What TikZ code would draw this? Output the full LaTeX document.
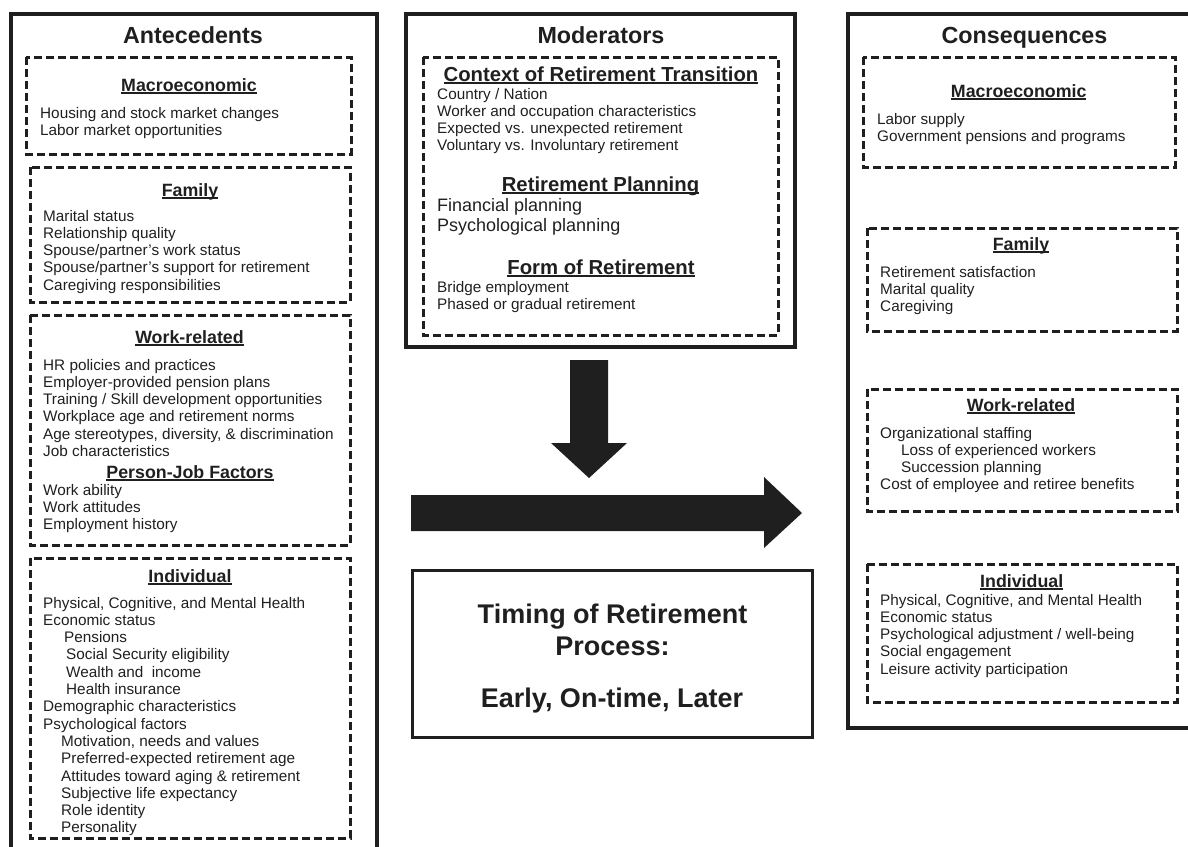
\documentclass[tikz,border=0pt]{standalone}
\usepackage{fontspec}
\setmainfont{Liberation Sans}
\definecolor{ink}{gray}{0.12}
\newsavebox\ulbox
\newcommand\ulhead[1]{\sbox\ulbox{#1}\rlap{\rule[-2.6pt]{\wd\ulbox}{1.4pt}}\usebox\ulbox}
\newcommand\itemlines[5]{%
  \foreach \t [count=\i] in {#5} {%
    \node[itemtext, anchor=base west] (#1-\i) at (#2, {#3+(\i-1)*#4}) {\t};}}
\begin{document}
\begin{tikzpicture}[x=1pt,y=-1pt,
  outerbox/.style={draw=ink, line width=3.4pt},
  dashbox/.style={draw=ink, line width=3pt, dash pattern=on 8pt off 4pt},
  itemtext/.style={font=\fontsize{15.3}{17.3}\selectfont, text=ink, inner sep=0pt},
  bigitem/.style={font=\fontsize{18}{20}\selectfont, text=ink, inner sep=0pt},
  headtext/.style={font=\bfseries\fontsize{17.8}{20}\selectfont, text=ink, inner sep=0pt},
  subhead/.style={font=\bfseries\fontsize{20.3}{23}\selectfont, text=ink, inner sep=0pt},
  titletext/.style={font=\bfseries\fontsize{23.3}{26}\selectfont, text=ink, inner sep=0pt},
  timingtext/.style={font=\bfseries\fontsize{27}{30}\selectfont, text=ink, inner sep=0pt},
  bigarrow/.style={fill=ink, draw=none}]
\useasboundingbox (0,0) rectangle (1188,846);
\clip (0,0) rectangle (1188,846);

% ---------------- Antecedents ----------------
\draw[outerbox] (11,14) rectangle (377,900);
\node[titletext, anchor=base] (antetitle) at (193,43) {Antecedents};

\draw[dashbox] (26,57) rectangle (351,154);
\node[headtext, anchor=base] (amacro) at (189,91) {\ulhead{Macroeconomic}};
\itemlines{am}{40}{118}{17.3}{Housing and stock market changes, Labor market opportunities}

\draw[dashbox] (30,167) rectangle (350,302);
\node[headtext, anchor=base] (afam) at (190,196) {\ulhead{Family}};
\itemlines{af}{43}{221}{17.3}{Marital status, Relationship quality, Spouse/partner’s work status, Spouse/partner’s support for retirement, Caregiving responsibilities}

\draw[dashbox] (30,315) rectangle (350,545);
\node[headtext, anchor=base] (awork) at (189.5,343) {\ulhead{Work-related}};
\itemlines{aw}{43}{370}{17.3}{HR policies and practices, Employer-provided pension plans, Training / Skill development opportunities, Workplace age and retirement norms, {Age stereotypes, diversity, \& discrimination}, Job characteristics}
\node[headtext, anchor=base] (apj) at (190,478) {\ulhead{Person-Job Factors}};
\itemlines{ap}{43}{495}{17.3}{Work ability, Work attitudes, Employment history}

\draw[dashbox] (30,558) rectangle (350,838);
\node[headtext, anchor=base] (aind) at (190,582) {\ulhead{Individual}};
\itemlines{ai}{43}{608}{17.3}{{Physical, Cognitive, and Mental Health}, Economic status, \hspace*{21pt}Pensions, \hspace*{23pt}Social Security eligibility, \hspace*{23pt}Wealth and\ \ income, \hspace*{23pt}Health insurance, Demographic characteristics, Psychological factors, {\hspace*{18pt}Motivation, needs and values}, \hspace*{18pt}Preferred-expected retirement age, \hspace*{18pt}Attitudes toward aging \& retirement, \hspace*{18pt}Subjective life expectancy, \hspace*{18pt}Role identity, \hspace*{18pt}Personality}

% ---------------- Moderators ----------------
\draw[outerbox] (406,14) rectangle (795,347);
\node[titletext, anchor=base] (modtitle) at (601,43) {Moderators};
\draw[dashbox] (423,57) rectangle (778,335);
\node[subhead, anchor=base] (mctx) at (601,81) {\ulhead{Context of Retirement Transition}};
\itemlines{mc}{437}{99}{17.3}{Country / Nation, Worker and occupation characteristics, Expected vs. unexpected retirement, Voluntary vs. Involuntary retirement}
\node[subhead, anchor=base] (mplan) at (600.5,191) {\ulhead{Retirement Planning}};
\node[bigitem, anchor=base west] (mp-1) at (437,211) {Financial planning};
\node[bigitem, anchor=base west] (mp-2) at (437,231) {Psychological planning};
\node[subhead, anchor=base] (mform) at (601,274) {\ulhead{Form of Retirement}};
\itemlines{mf}{437}{292}{17.3}{Bridge employment, Phased or gradual retirement}

% ---------------- Arrows ----------------
\fill[bigarrow] (570,360) -- (608,360) -- (608,443) -- (627,443) -- (589,478) -- (551,443) -- (570,443) -- cycle;
\fill[bigarrow] (411,495) -- (764,495) -- (764,477) -- (802,513) -- (764,548) -- (764,531) -- (411,531) -- cycle;

% ---------------- Timing ----------------
\draw[ink, line width=3pt] (412,570) rectangle (812,737);
\node[timingtext, anchor=base] (tim1) at (612.5,623) {Timing of Retirement};
\node[timingtext, anchor=base] (tim2) at (612.5,655) {Process:};
\node[timingtext, anchor=base] (tim3) at (612,707) {Early, On-time, Later};

% ---------------- Consequences ----------------
\draw[outerbox] (848,14) rectangle (1250,728);
\node[titletext, anchor=base] (contitle) at (1024.5,43) {Consequences};

\draw[dashbox] (863,57) rectangle (1175,167);
\node[headtext, anchor=base] (cmacro) at (1018.7,97) {\ulhead{Macroeconomic}};
\itemlines{cm}{877}{124}{17.3}{Labor supply, Government pensions and programs}

\draw[dashbox] (867,228) rectangle (1177,331);
\node[headtext, anchor=base] (cfam) at (1021,250) {\ulhead{Family}};
\itemlines{cf}{880}{277}{17.3}{Retirement satisfaction, Marital quality, Caregiving}

\draw[dashbox] (867,389) rectangle (1177,511);
\node[headtext, anchor=base] (cwork) at (1021,411) {\ulhead{Work-related}};
\itemlines{cw}{880}{438}{17.3}{Organizational staffing, \hspace*{21pt}Loss of experienced\ workers, \hspace*{21pt}Succession planning, Cost of employee and retiree benefits}

\draw[dashbox] (867,564) rectangle (1177,702);
\node[headtext, anchor=base] (cind) at (1021.7,587) {\ulhead{Individual}};
\itemlines{ci}{880}{605}{17.3}{{Physical, Cognitive, and Mental Health}, Economic status, Psychological adjustment / well-being, Social engagement, Leisure activity participation}
\end{tikzpicture}
\end{document}
